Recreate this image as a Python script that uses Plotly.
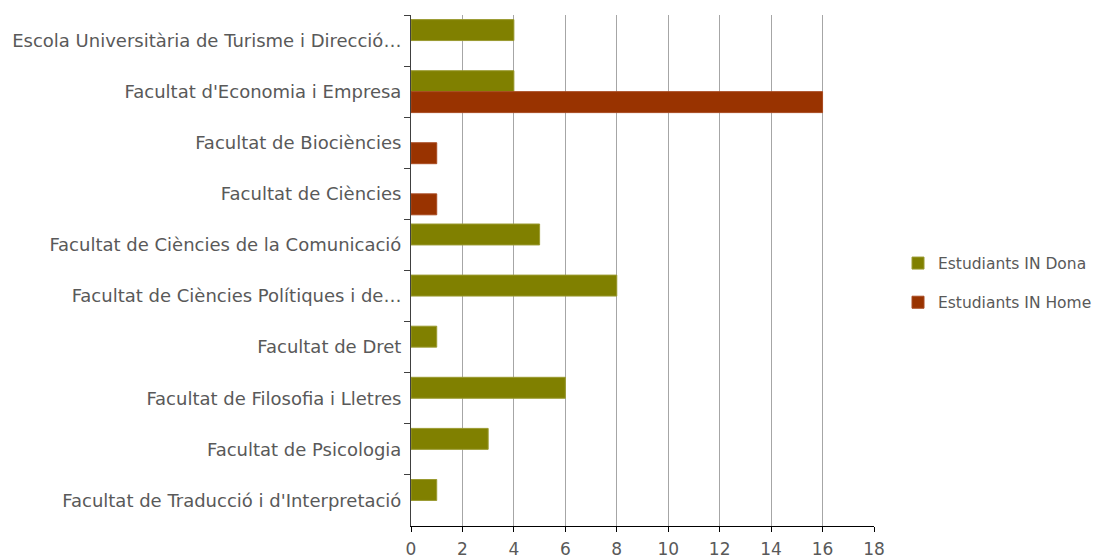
import plotly.graph_objects as go

categories = [
    "Escola Universitària de Turisme i Direcció…",
    "Facultat d'Economia i Empresa",
    "Facultat de Biociències",
    "Facultat de Ciències",
    "Facultat de Ciències de la Comunicació",
    "Facultat de Ciències Polítiques i de…",
    "Facultat de Dret",
    "Facultat de Filosofia i Lletres",
    "Facultat de Psicologia",
    "Facultat de Traducció i d'Interpretació",
]
dona = [4, 4, None, None, 5, 8, 1, 6, 3, 1]
home = [None, 16, 1, 1, None, None, None, None, None, None]
x_ticks = [0, 2, 4, 6, 8, 10, 12, 14, 16, 18]

FONT = "DejaVu Sans"
TXT = "#595959"

fig = go.Figure()
fig.add_trace(go.Bar(name="Estudiants IN Dona", y=categories, x=dona, orientation="h",
                     legendgroup="d",
                     marker=dict(color="#808000", line=dict(color="#9a9a30", width=1))))
fig.add_trace(go.Bar(name="Estudiants IN Home", y=categories, x=home, orientation="h",
                     legendgroup="h",
                     marker=dict(color="#993300", line=dict(color="#a84a20", width=1))))

# page body has an 8px margin, so the figure is offset by 8px
fig.update_layout(
    width=1096, height=552,
    margin=dict(l=403, r=230, t=7, b=34, autoexpand=False),
    paper_bgcolor="white", plot_bgcolor="white",
    barmode="group", bargap=0.18, bargroupgap=0,
    font=dict(family=FONT, color=TXT, size=16),
    legend=dict(xref="container", yref="container", x=890 / 1096, y=(552 - 275) / 552,
                xanchor="left", yanchor="middle",
                font=dict(family=FONT, size=15.5, color=TXT), itemwidth=30, tracegroupgap=16,
                bgcolor="rgba(0,0,0,0)"),
)
fig.update_xaxes(range=[0, 18], tickvals=x_ticks, showgrid=True, gridcolor="#a6a6a6", gridwidth=1,
                 showline=True, linecolor="#000000", linewidth=1, ticks="outside", ticklen=5,
                 tickcolor="#000000", zeroline=False, tickfont=dict(size=17, color=TXT),
                 ticklabelstandoff=3)
fig.update_yaxes(categoryorder="array", categoryarray=categories, autorange="reversed",
                 showline=True, linecolor="#404040", linewidth=1, ticks="outside", ticklen=6,
                 tickson="boundaries", tickcolor="#404040", tickfont=dict(size=18, color=TXT),
                 ticklabelstandoff=5)

fig.write_html("out.html")
